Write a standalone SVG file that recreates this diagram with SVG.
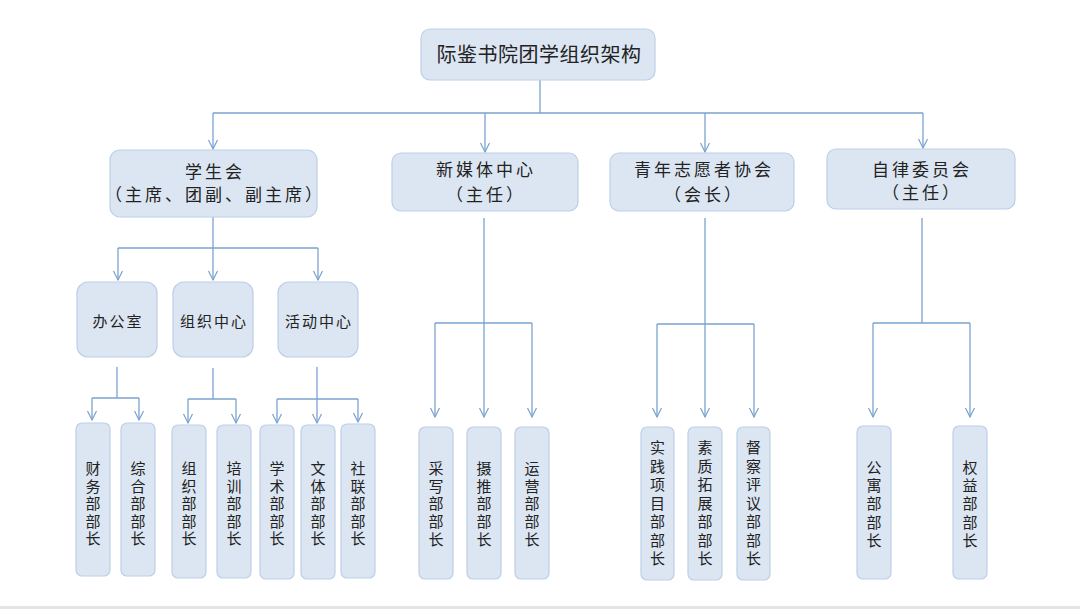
<svg xmlns="http://www.w3.org/2000/svg" width="1080" height="609" viewBox="0 0 1080 609">
<style>
.box{fill:#dce6f3;stroke:#bcd0e8;stroke-width:1.2}
.t{font-family:"Noto Sans CJK SC","Noto Sans CJK JP",sans-serif;fill:#222;text-anchor:middle}
.t0{font-size:20px;letter-spacing:0.5px}
.t1{font-size:17px;letter-spacing:3px}
.t2{font-size:15px;letter-spacing:2px}
.tv{font-size:15px}
.ln{fill:none;stroke:#7aa2cf;stroke-width:1.3}
.ar{marker-end:url(#arr)}
</style>
<defs>
<marker id="arr" viewBox="-10 -6 12 12" markerWidth="12" markerHeight="12" refX="0" refY="0" orient="auto" markerUnits="userSpaceOnUse">
<path d="M-9,-4.5 L0,0 L-9,4.5" fill="none" stroke="#7aa2cf" stroke-width="1.2"/>
</marker>
</defs>
<rect x="0" y="0" width="1080" height="609" fill="#ffffff"/>
<rect x="0" y="606" width="1080" height="3" fill="#e4e4e4"/>

<g id="connectors">
<path class="ln" d="M540,80 V113 M213,113 H923"/>
<path class="ln ar" d="M213,113 V149"/>
<path class="ln ar" d="M485,113 V152"/>
<path class="ln ar" d="M705,113 V152"/>
<path class="ln ar" d="M923,113 V148"/>

<path class="ln" d="M213,217 V248 M118,248 H318"/>
<path class="ln ar" d="M118,248 V280"/>
<path class="ln ar" d="M213,248 V280"/>
<path class="ln ar" d="M318,248 V280"/>

<path class="ln" d="M117,367 V398 M92,398 H139"/>
<path class="ln ar" d="M92,398 V420"/>
<path class="ln ar" d="M139,398 V420"/>

<path class="ln" d="M213,368 V399 M188,399 H236"/>
<path class="ln ar" d="M188,399 V423"/>
<path class="ln ar" d="M236,399 V423"/>

<path class="ln" d="M317,367 V399 M277,399 H358"/>
<path class="ln ar" d="M277,399 V423"/>
<path class="ln ar" d="M317,399 V423"/>
<path class="ln ar" d="M358,399 V422"/>

<path class="ln" d="M484,218 V323 M435,323 H532"/>
<path class="ln ar" d="M435,323 V417"/>
<path class="ln ar" d="M484,323 V417"/>
<path class="ln ar" d="M532,323 V417"/>

<path class="ln" d="M705,218 V324 M657,324 H754"/>
<path class="ln ar" d="M657,324 V417"/>
<path class="ln ar" d="M705,324 V417"/>
<path class="ln ar" d="M754,324 V417"/>

<path class="ln" d="M922,218 V323 M873,323 H970"/>
<path class="ln ar" d="M873,323 V417"/>
<path class="ln ar" d="M970,323 V417"/>
</g>

<g id="root">
<rect class="box" x="421" y="29" width="234" height="51" rx="9"/>
<text class="t t0" x="539" y="62">际鉴书院团学组织架构</text>
</g>

<g id="xueshenghui">
<rect class="box" x="110" y="150" width="207" height="67" rx="10"/>
<text class="t t1" x="215" y="178">学生会</text>
<text class="t t1" x="215" y="201">（主席、团副、副主席）</text>
</g>
<g id="xinmeiti">
<rect class="box" x="392" y="153" width="186" height="58" rx="9"/>
<text class="t t1" x="486" y="176">新媒体中心</text>
<text class="t t1" x="486" y="201">（主任）</text>
</g>
<g id="qingnian">
<rect class="box" x="610" y="153" width="184" height="58" rx="9"/>
<text class="t t1" x="704" y="176">青年志愿者协会</text>
<text class="t t1" x="704" y="201">（会长）</text>
</g>
<g id="zilv">
<rect class="box" x="827" y="149" width="188" height="60" rx="9"/>
<text class="t t1" x="922" y="176">自律委员会</text>
<text class="t t1" x="922" y="199">（主任）</text>
</g>

<g id="bangongshi">
<rect class="box" x="77" y="282" width="80" height="75" rx="11"/>
<text class="t t2" x="118" y="327">办公室</text>
</g>
<g id="zuzhizhongxin">
<rect class="box" x="173" y="282" width="80" height="75" rx="11"/>
<text class="t t2" x="214" y="327">组织中心</text>
</g>
<g id="huodongzhongxin">
<rect class="box" x="278" y="282" width="80" height="75" rx="11"/>
<text class="t t2" x="319" y="327">活动中心</text>
</g>

<g id="caiwu">
<rect class="box" x="76" y="423" width="34" height="153" rx="6"/>
<text class="t tv" x="93" y="474"><tspan x="93">财</tspan><tspan x="93" dy="17.5">务</tspan><tspan x="93" dy="17.5">部</tspan><tspan x="93" dy="17.5">部</tspan><tspan x="93" dy="17.5">长</tspan></text>
</g>
<g id="zonghe">
<rect class="box" x="121" y="423" width="34" height="153" rx="6"/>
<text class="t tv" x="138" y="474"><tspan x="138">综</tspan><tspan x="138" dy="17.5">合</tspan><tspan x="138" dy="17.5">部</tspan><tspan x="138" dy="17.5">部</tspan><tspan x="138" dy="17.5">长</tspan></text>
</g>
<g id="zuzhi">
<rect class="box" x="172" y="425" width="34" height="153" rx="6"/>
<text class="t tv" x="189" y="474"><tspan x="189">组</tspan><tspan x="189" dy="17.5">织</tspan><tspan x="189" dy="17.5">部</tspan><tspan x="189" dy="17.5">部</tspan><tspan x="189" dy="17.5">长</tspan></text>
</g>
<g id="peixun">
<rect class="box" x="217" y="425" width="34" height="153" rx="6"/>
<text class="t tv" x="234" y="474"><tspan x="234">培</tspan><tspan x="234" dy="17.5">训</tspan><tspan x="234" dy="17.5">部</tspan><tspan x="234" dy="17.5">部</tspan><tspan x="234" dy="17.5">长</tspan></text>
</g>
<g id="xueshu">
<rect class="box" x="260" y="425" width="34" height="154" rx="6"/>
<text class="t tv" x="277" y="474"><tspan x="277">学</tspan><tspan x="277" dy="17.5">术</tspan><tspan x="277" dy="17.5">部</tspan><tspan x="277" dy="17.5">部</tspan><tspan x="277" dy="17.5">长</tspan></text>
</g>
<g id="wenti">
<rect class="box" x="301" y="425" width="34" height="154" rx="6"/>
<text class="t tv" x="318" y="474"><tspan x="318">文</tspan><tspan x="318" dy="17.5">体</tspan><tspan x="318" dy="17.5">部</tspan><tspan x="318" dy="17.5">部</tspan><tspan x="318" dy="17.5">长</tspan></text>
</g>
<g id="shelian">
<rect class="box" x="341" y="424" width="34" height="154" rx="6"/>
<text class="t tv" x="358" y="474"><tspan x="358">社</tspan><tspan x="358" dy="17.5">联</tspan><tspan x="358" dy="17.5">部</tspan><tspan x="358" dy="17.5">部</tspan><tspan x="358" dy="17.5">长</tspan></text>
</g>

<g id="caixie">
<rect class="box" x="419" y="427" width="34" height="152" rx="6"/>
<text class="t tv" x="436" y="474"><tspan x="436">采</tspan><tspan x="436" dy="17.7">写</tspan><tspan x="436" dy="17.7">部</tspan><tspan x="436" dy="17.7">部</tspan><tspan x="436" dy="17.7">长</tspan></text>
</g>
<g id="shetui">
<rect class="box" x="467" y="427" width="34" height="152" rx="6"/>
<text class="t tv" x="484" y="474"><tspan x="484">摄</tspan><tspan x="484" dy="17.7">推</tspan><tspan x="484" dy="17.7">部</tspan><tspan x="484" dy="17.7">部</tspan><tspan x="484" dy="17.7">长</tspan></text>
</g>
<g id="yunying">
<rect class="box" x="515" y="427" width="34" height="152" rx="6"/>
<text class="t tv" x="532" y="474"><tspan x="532">运</tspan><tspan x="532" dy="17.7">营</tspan><tspan x="532" dy="17.7">部</tspan><tspan x="532" dy="17.7">部</tspan><tspan x="532" dy="17.7">长</tspan></text>
</g>

<g id="shijian">
<rect class="box" x="641" y="427" width="33" height="153" rx="6"/>
<text class="t tv" x="657.5" y="453"><tspan x="657.5">实</tspan><tspan x="657.5" dy="18.5">践</tspan><tspan x="657.5" dy="18.5">项</tspan><tspan x="657.5" dy="18.5">目</tspan><tspan x="657.5" dy="18.5">部</tspan><tspan x="657.5" dy="18.5">部</tspan><tspan x="657.5" dy="18.5">长</tspan></text>
</g>
<g id="suzhi">
<rect class="box" x="688" y="427" width="34" height="153" rx="6"/>
<text class="t tv" x="705" y="453"><tspan x="705">素</tspan><tspan x="705" dy="18.5">质</tspan><tspan x="705" dy="18.5">拓</tspan><tspan x="705" dy="18.5">展</tspan><tspan x="705" dy="18.5">部</tspan><tspan x="705" dy="18.5">部</tspan><tspan x="705" dy="18.5">长</tspan></text>
</g>
<g id="ducha">
<rect class="box" x="737" y="427" width="33" height="153" rx="6"/>
<text class="t tv" x="753.5" y="453"><tspan x="753.5">督</tspan><tspan x="753.5" dy="18.5">察</tspan><tspan x="753.5" dy="18.5">评</tspan><tspan x="753.5" dy="18.5">议</tspan><tspan x="753.5" dy="18.5">部</tspan><tspan x="753.5" dy="18.5">部</tspan><tspan x="753.5" dy="18.5">长</tspan></text>
</g>

<g id="gongyu">
<rect class="box" x="857" y="426" width="34" height="153" rx="6"/>
<text class="t tv" x="874" y="473"><tspan x="874">公</tspan><tspan x="874" dy="18.2">寓</tspan><tspan x="874" dy="18.2">部</tspan><tspan x="874" dy="18.2">部</tspan><tspan x="874" dy="18.2">长</tspan></text>
</g>
<g id="quanyi">
<rect class="box" x="953" y="426" width="34" height="153" rx="6"/>
<text class="t tv" x="970" y="473"><tspan x="970">权</tspan><tspan x="970" dy="18.2">益</tspan><tspan x="970" dy="18.2">部</tspan><tspan x="970" dy="18.2">部</tspan><tspan x="970" dy="18.2">长</tspan></text>
</g>
</svg>
